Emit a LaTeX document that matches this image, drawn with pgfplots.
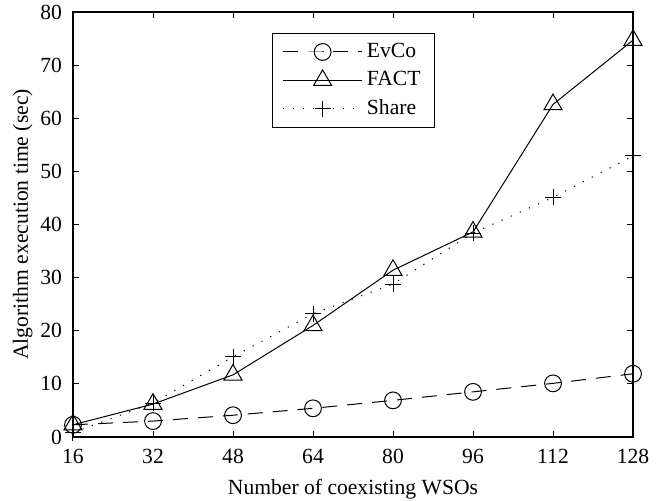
\documentclass[border=0pt]{standalone}
\usepackage{pgfplots}
\pgfplotsset{compat=1.18}
\usepackage{fontspec}
\setmainfont{Liberation Serif}
\begin{document}
\begin{tikzpicture}
\begin{axis}[
  name=ax, at={(0,0)}, anchor=south west,
  scale only axis, width=280pt, height=212.5pt,
  xmin=16, xmax=128, ymin=0, ymax=80,
  xtick={16,32,48,64,80,96,112,128},
  ytick={0,10,20,30,40,50,60,70,80},
  tick align=inside, major tick length=3pt,
  clip=false,
  axis line style={line width=0.6pt},
  every tick/.style={line width=0.5pt, black},
  font=\fontsize{10.8}{13}\selectfont,
  /pgf/number format/assume math mode=true,
  ticklabel style={font=\fontsize{10.8}{13}\selectfont},
  xticklabel style={yshift=-2.5pt},
  yticklabel style={xshift=-2pt},
  xlabel={Number of coexisting WSOs},
  ylabel={Algorithm execution time (sec)},
  xlabel style={yshift=-1pt},
  ylabel style={yshift=-3pt},
  legend cell align=left,
  legend style={at={(0.355,0.951)}, anchor=north west, draw=black, line width=0.5pt,
    font=\fontsize{10.8}{13}\selectfont, row sep=1.5pt, inner xsep=5pt, inner ysep=3pt},
  legend image code/.code={\draw[mark repeat=2,mark phase=2,#1] plot coordinates {(0cm,0cm) (0.7cm,0cm) (1.4cm,0cm)};},
]
\addplot[black, line width=0.5pt, dash pattern=on 7.5pt off 5pt, mark=o, mark size=4.2pt, mark options={solid}]
 coordinates {(16,2.3) (32,3.0) (48,4.1) (64,5.4) (80,6.9) (96,8.5) (112,10.1) (128,11.9)};
\addlegendentry{EvCo}
\addplot[black, line width=0.5pt, solid, mark=triangle, mark size=5.2pt, mark options={solid}]
 coordinates {(16,2.3) (32,6.2) (48,11.7) (64,21.0) (80,31.4) (96,38.6) (112,62.6) (128,74.7)};
\addlegendentry{FACT}
\addplot[black, line width=0.5pt, dash pattern=on 0.6pt off 4.4pt, mark=+, mark size=4pt, mark options={solid}]
 coordinates {(16,0.8) (32,6.4) (48,15.1) (64,23.2) (80,28.8) (96,38.4) (112,45.1) (128,52.9)};
\addlegendentry{Share}
\end{axis}
\pgfresetboundingbox
\path[use as bounding box] (-36.5pt,-31.5pt) rectangle (299.5pt,218.5pt);
\end{tikzpicture}
\end{document}
